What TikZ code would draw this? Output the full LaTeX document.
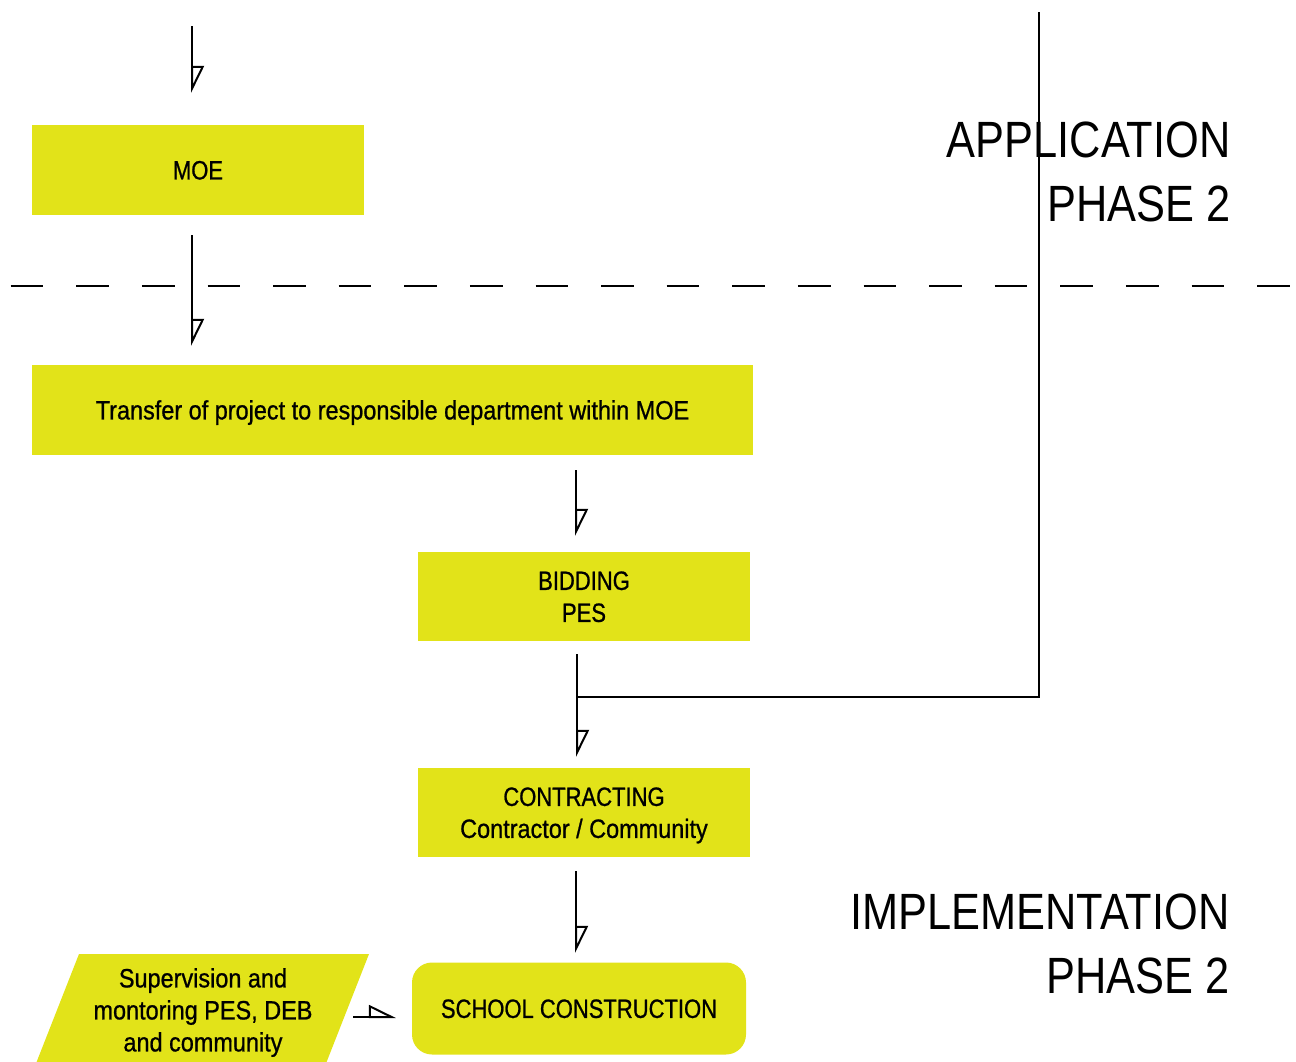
\documentclass[tikz,border=0pt]{standalone}
\usepackage{fontspec}
\setmainfont[FakeStretch=0.885, FakeBold=0.8]{Liberation Sans}
\newfontfamily\capsfont[FakeStretch=0.83, FakeBold=0.8]{Liberation Sans}
\newfontfamily\titlefont[FakeStretch=0.85]{Liberation Sans}
\usetikzlibrary{arrows.meta}

\definecolor{flowfill}{RGB}{226,227,25}

% box text: strut-based lines, set a little below the box centre
\newcommand\boxtext[1]{\raisebox{-3pt}[\height][\depth]{%
  \begin{tabular}{@{}c@{}}#1\end{tabular}}}

\tikzset{
  flowbox/.style={fill=flowfill, draw=none, inner sep=0pt, outer sep=0pt,
    font=\fontsize{26.5}{32}\selectfont},
  flowline/.style={line width=2pt, black},
  halfarrow/.style={flowline,
    -{Triangle[open, left, length=25pt, width=24pt, line width=2pt]}},
  phasetitle/.style={inner sep=0pt, align=right, anchor=north east,
    font=\titlefont\fontsize{51}{64}\selectfont},
}

\begin{document}
\begin{tikzpicture}[x=1pt, y=-1pt]
  \useasboundingbox (0,0) rectangle (1296,1061);
  \clip (0,0) rectangle (1296,1061);

  % phase separator
  \draw[line width=2pt, dash pattern=on 32.7pt off 32.9pt] (10.7,286) -- (1296,286);

  % process boxes
  \node[flowbox, minimum width=332pt, minimum height=90pt] (moe) at (198,170)
    {\boxtext{\capsfont MOE}};
  \node[flowbox, minimum width=721pt, minimum height=90pt] (trans) at (392.5,410)
    {\boxtext{Transfer of project to responsible department within MOE}};
  \node[flowbox, minimum width=332pt, minimum height=89pt] (bid) at (584,596.5)
    {\boxtext{\capsfont BIDDING\\\capsfont PES}};
  \node[flowbox, minimum width=332pt, minimum height=89pt] (con) at (584,812.5)
    {\boxtext{\capsfont CONTRACTING\\Contractor / Community}};
  \node[flowbox, rounded corners=20pt, minimum width=334pt, minimum height=92pt]
    (school) at (579,1008.5) {\boxtext{\capsfont SCHOOL CONSTRUCTION}};

  % supervision input (parallelogram)
  \fill[flowfill] (79,954) -- (369,954) -- (325,1066) -- (35,1066) -- cycle;
  \node[inner sep=0pt, font=\fontsize{26.5}{32}\selectfont]
    (sup) at (203,1010) {\boxtext{Supervision and\\montoring PES, DEB\\and community}};

  % connector end points
  \coordinate (in1) at (192,26);
  \coordinate (moeIn) at (192,93);
  \coordinate (moeOut) at (192,235);
  \coordinate (transIn) at (192,346);
  \coordinate (transOut) at (576,470);
  \coordinate (bidIn) at (576,536);
  \coordinate (bidOut) at (577,654);
  \coordinate (conIn) at (577,757);
  \coordinate (join) at (577,697);
  \coordinate (appTop) at (1039,12);
  \coordinate (conOut) at (576,871);
  \coordinate (schoolIn) at (576,953);
  \coordinate (supOut) at (353,1017);
  \coordinate (schoolSide) at (396,1017);

  % connectors
  \draw[halfarrow] (in1) -- (moeIn);
  \draw[halfarrow] (moeOut) -- (transIn);
  \draw[halfarrow] (transOut) -- (bidIn);
  \draw[halfarrow] (bidOut) -- (conIn);
  \draw[flowline] (appTop) |- (join);
  \draw[halfarrow] (conOut) -- (schoolIn);
  \draw[halfarrow] (supOut) -- (schoolSide);

  % phase titles
  \node[phasetitle] (app) at (1230.5,121.7) {APPLICATION\\PHASE 2};
  \node[phasetitle] (impl) at (1229.5,893.3) {IMPLEMENTATION\\PHASE 2};
\end{tikzpicture}
\end{document}
